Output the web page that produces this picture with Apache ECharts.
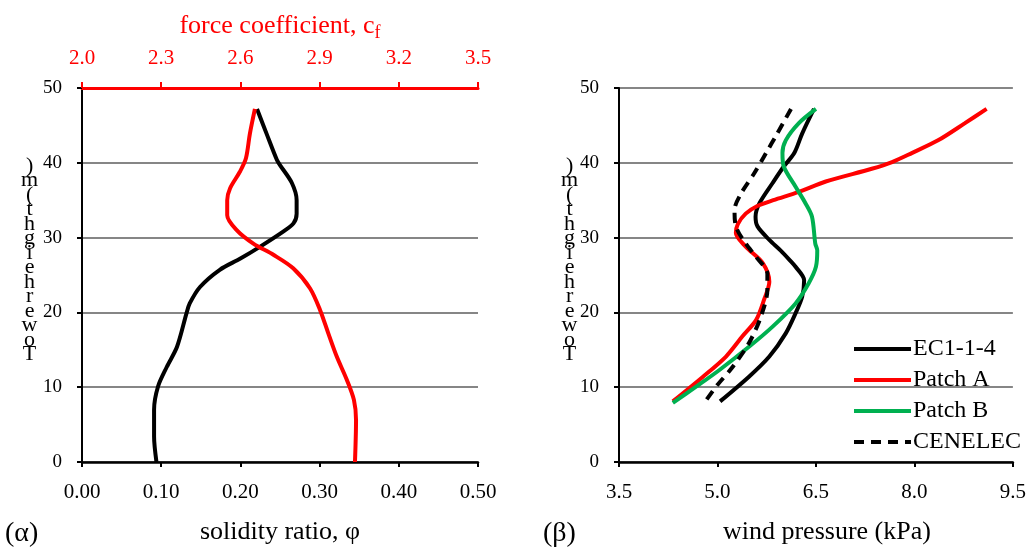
<!DOCTYPE html>
<html>
<head>
<meta charset="utf-8">
<script src="https://cdn.jsdelivr.net/npm/echarts@6/dist/echarts.min.js"></script>
<style>
  html, body { margin: 0; padding: 0; background: #fff; }
  #container { width: 1029px; height: 554px; }
</style>
</head>
<body>
<div id="container"></div>
<script>
var dom = document.getElementById("container");
var myChart = echarts.init(dom);
var option = null;

// panel (a): tower height vs solidity ratio and force coefficient
var phiHeights = [47.2, 43.9, 40.4, 39.7, 37.3, 35.0, 33.2, 31.9, 30.8, 28.8, 27.2, 25.7, 23.4, 21.2, 19.9, 15.4, 12.7, 10.1, 7.0, 3.4, 0];
var phiValues  = [0.221, 0.233, 0.246, 0.250, 0.265, 0.271, 0.271, 0.267, 0.254, 0.225, 0.200, 0.174, 0.149, 0.136, 0.132, 0.120, 0.107, 0.096, 0.091, 0.091, 0.094];

var cfHeights = [47.2, 43.9, 40.6, 38.8, 36.6, 35.0, 33.0, 31.0, 29.2, 27.7, 25.9, 23.2, 20.3, 17.2, 14.1, 11.0, 8.3, 5.6, 0];
var cfValues  = [2.655, 2.636, 2.621, 2.598, 2.561, 2.550, 2.550, 2.586, 2.649, 2.725, 2.800, 2.864, 2.902, 2.933, 2.965, 3.003, 3.030, 3.038, 3.034];

// panel (b): tower height vs wind pressure
var ecHeights = [47.2, 43.9, 41.3, 39.5, 37.3, 34.6, 32.8, 31.5, 29.7, 28.3, 27.0, 26.1, 24.3, 22.1, 19.9, 17.2, 14.1, 11.4, 8.1];
var ecValues  = [6.47, 6.29, 6.17, 6.01, 5.84, 5.64, 5.58, 5.61, 5.79, 5.96, 6.10, 6.19, 6.32, 6.29, 6.19, 6.04, 5.79, 5.48, 5.04];

var patchAHeights = [47.2, 45.3, 43.0, 41.3, 40.1, 39.2, 37.5, 36.1, 35.0, 34.2, 33.2, 31.8, 30.6, 28.8, 26.6, 24.1, 21.7, 19.0, 16.8, 14.1, 11.4, 8.1];
var patchAValues  = [9.10, 8.77, 8.36, 7.96, 7.66, 7.35, 6.65, 6.24, 5.85, 5.60, 5.43, 5.31, 5.28, 5.43, 5.69, 5.79, 5.71, 5.59, 5.38, 5.13, 4.78, 4.32];

var patchBHeights = [47.2, 45.3, 43.0, 41.3, 39.5, 36.8, 34.6, 32.8, 29.2, 28.3, 26.1, 23.9, 21.2, 18.1, 15.4, 12.3, 10.1, 7.9];
var patchBValues  = [6.50, 6.24, 6.04, 5.99, 6.01, 6.19, 6.34, 6.44, 6.49, 6.52, 6.50, 6.39, 6.19, 5.84, 5.48, 5.03, 4.68, 4.32];

var cenelecHeights = [47.2, 43.9, 41.3, 38.6, 35.9, 33.7, 31.5, 29.2, 27.4, 25.2, 23.0, 19.4, 15.9, 12.7, 10.1, 7.9];
var cenelecValues  = [6.12, 5.91, 5.74, 5.56, 5.36, 5.26, 5.28, 5.43, 5.59, 5.76, 5.76, 5.66, 5.48, 5.23, 4.98, 4.80];

var legendNames = ['EC1-1-4', 'Patch A', 'Patch B', 'CENELEC'];
var heightLabel = 'Tower height (m)';

var serif = '"Liberation Serif", "Times New Roman", serif';

function pairs(xs, hs) {
    return xs.map(function (x, i) { return [x, hs[i]]; });
}

// characters stacked from the top, last character first
var stacked = heightLabel.replace(/ /g, '').split('').reverse().join('\n');

function heightAxis(grid) {
    return {
        type: 'value',
        gridIndex: grid,
        min: 0,
        max: 50,
        interval: 10,
        axisLine: { show: true, lineStyle: { color: '#000', width: 2 } },
        axisTick: { show: true, length: 5, lineStyle: { color: '#000', width: 2 } },
        axisLabel: { color: '#000', fontFamily: serif, fontSize: 19, margin: 20 },
        splitLine: { show: true, lineStyle: { color: '#868686', width: 2 } }
    };
}

function curve(name, xs, hs, color, xi, yi, dashed) {
    return {
        name: name,
        type: 'line',
        xAxisIndex: xi,
        yAxisIndex: yi,
        data: pairs(xs, hs),
        showSymbol: false,
        symbol: 'none',
        smooth: 0.3,
        lineStyle: { color: color, width: 4, type: dashed ? [10, 7] : 'solid' },
        itemStyle: { color: color }
    };
}

option = {
    animation: false,
    backgroundColor: '#fff',
    grid: [
        { left: 82, right: 551, top: 88, bottom: 92 },
        { left: 619, right: 14, top: 88, bottom: 92 }
    ],
    xAxis: [
        {
            type: 'value',
            gridIndex: 0,
            position: 'bottom',
            min: 0,
            max: 0.5,
            interval: 0.1,
            name: 'solidity ratio, φ',
            nameLocation: 'middle',
            nameGap: 57,
            nameTextStyle: { color: '#000', fontFamily: serif, fontSize: 26 },
            axisLine: { show: true, onZero: false, lineStyle: { color: '#000', width: 2.5 } },
            axisTick: { show: true, length: 5, lineStyle: { color: '#000', width: 2 } },
            axisLabel: {
                color: '#000', fontFamily: serif, fontSize: 21, margin: 20,
                formatter: function (v) { return v.toFixed(2); }
            },
            splitLine: { show: false }
        },
        {
            type: 'value',
            gridIndex: 0,
            position: 'top',
            min: 2.0,
            max: 3.5,
            interval: 0.3,
            name: 'force coefficient, c{sub|f}',
            nameLocation: 'middle',
            nameGap: 46,
            nameTextStyle: {
                color: '#ff0000', fontFamily: serif, fontSize: 26,
                rich: { sub: { color: '#ff0000', fontFamily: serif, fontSize: 18, padding: [14, 0, 0, 0] } }
            },
            axisLine: { show: true, onZero: false, lineStyle: { color: '#ff0000', width: 3 } },
            axisTick: { show: true, length: 6, lineStyle: { color: '#ff0000', width: 2 } },
            axisLabel: {
                color: '#ff0000', fontFamily: serif, fontSize: 21, margin: 19,
                formatter: function (v) { return v.toFixed(1); }
            },
            splitLine: { show: false }
        },
        {
            type: 'value',
            gridIndex: 1,
            position: 'bottom',
            min: 3.5,
            max: 9.5,
            interval: 1.5,
            name: 'wind pressure (kPa)',
            nameLocation: 'middle',
            nameGap: 57,
            nameTextStyle: { color: '#000', fontFamily: serif, fontSize: 26, padding: [0, 0, 0, 22] },
            axisLine: { show: true, onZero: false, lineStyle: { color: '#000', width: 2.5 } },
            axisTick: { show: true, length: 5, lineStyle: { color: '#000', width: 2 } },
            axisLabel: {
                color: '#000', fontFamily: serif, fontSize: 21, margin: 20,
                formatter: function (v) { return v.toFixed(1); }
            },
            splitLine: { show: false }
        }
    ],
    yAxis: [heightAxis(0), heightAxis(1)],
    legend: {
        data: legendNames,
        orient: 'vertical',
        left: 847,
        top: 332,
        itemWidth: 57,
        itemHeight: 14,
        itemGap: 7,
        itemStyle: { opacity: 0 },
        lineStyle: { width: 4 },
        textStyle: { color: '#000', fontFamily: serif, fontSize: 24, lineHeight: 24, padding: [0, 0, 0, -3] }
    },
    graphic: [
        {
            type: 'text', left: 21, top: 155,
            style: { text: stacked, font: '22px ' + serif, lineHeight: 14.5, fill: '#000', textAlign: 'center' }
        },
        {
            type: 'text', left: 561, top: 155,
            style: { text: stacked, font: '22px ' + serif, lineHeight: 14.5, fill: '#000', textAlign: 'center' }
        },
        {
            type: 'text', left: 5, top: 520,
            style: { text: '(α)', font: '28px ' + serif, fill: '#000' }
        },
        {
            type: 'text', left: 543, top: 520,
            style: { text: '(β)', font: '28px ' + serif, fill: '#000' }
        }
    ],
    series: [
        curve('solidity', phiValues, phiHeights, '#000000', 0, 0, false),
        curve('force coefficient', cfValues, cfHeights, '#ff0000', 1, 0, false),
        curve('EC1-1-4', ecValues, ecHeights, '#000000', 2, 1, false),
        curve('Patch A', patchAValues, patchAHeights, '#ff0000', 2, 1, false),
        curve('Patch B', patchBValues, patchBHeights, '#00b050', 2, 1, false),
        curve('CENELEC', cenelecValues, cenelecHeights, '#000000', 2, 1, true)
    ]
};

if (option && typeof option === "object") {
    myChart.setOption(option, true);
}
</script>
</body>
</html>
